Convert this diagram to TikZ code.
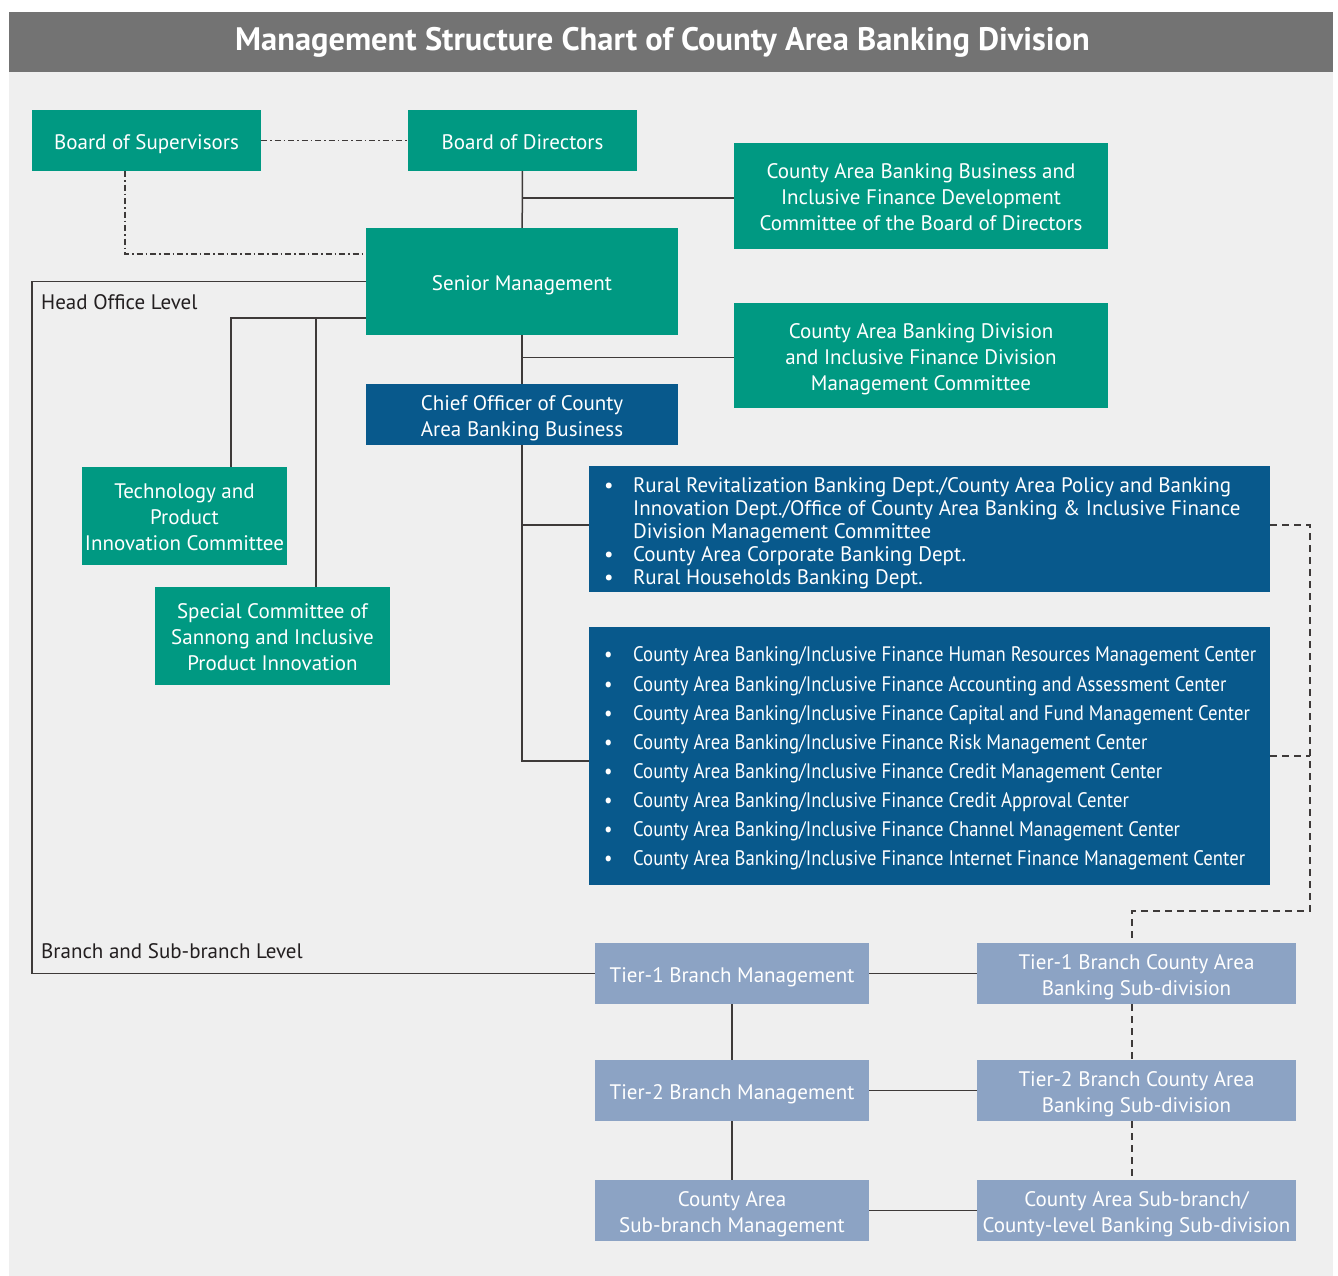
\documentclass[tikz,border=0pt]{standalone}
\usepackage{fontspec}
\setmainfont{PT Sans}
\newfontfamily\condfont{PT Sans}[FakeStretch=0.89]
\definecolor{teal1}{HTML}{009982}
\definecolor{navy1}{HTML}{08598C}
\definecolor{steel1}{HTML}{8CA3C4}
\definecolor{bg1}{HTML}{EFEFEF}
\definecolor{title1}{HTML}{737373}
\definecolor{line1}{HTML}{3E3A39}
\definecolor{txt1}{HTML}{231F20}
\newcommand{\bx}[7]{\node[#2,minimum width={#5pt-#3pt},minimum height={#6pt-#4pt}] (#1) at ({(#3+#5)/2},{(#4+#6)/2}) {\raisebox{-3.5pt}[\height][\depth]{\begin{tabular}{@{}c@{}}#7\end{tabular}}};}
\begin{document}
\begin{tikzpicture}[x=1pt,y=-1pt,
  box/.style={draw=none,inner sep=0pt,align=center,text=white,font=\fontsize{21}{26}\selectfont},
  tealbox/.style={box,fill=teal1},
  navybox/.style={box,fill=navy1},
  steelbox/.style={box,fill=steel1},
  conn/.style={draw=line1,line width=1.5pt},
  dashdot/.style={draw=line1,line width=1.3pt,dash pattern=on 6pt off 3pt on 1.5pt off 3pt},
  dashln/.style={draw=line1,line width=1.3pt,dash pattern=on 7pt off 5pt},
  lvl/.style={anchor=west,inner sep=0pt,text=txt1,font=\fontsize{21}{26}\selectfont},
  listtxt/.style={anchor=west,inner sep=0pt,text=white}]
\useasboundingbox (0,0) rectangle (1338,1276);
\fill[white] (0,0) rectangle (1338,1276);
\fill[bg1] (9,72) rectangle (1333,1276);
\fill[title1] (9,12) rectangle (1333,72);
\node[inner sep=0pt,text=white,font=\bfseries\fontsize{32.5}{36}\selectfont] (ttl) at (662.5,42) {Management Structure Chart of County Area Banking Division};

\bx{sup}{tealbox}{32}{110}{261}{171}{Board of Supervisors}
\bx{dir}{tealbox}{408}{110}{637}{171}{Board of Directors}
\bx{cab}{tealbox}{734}{143}{1108}{249}{County Area Banking Business and\\Inclusive Finance Development\\Committee of the Board of Directors}
\bx{sen}{tealbox}{366}{228}{678}{335}{Senior Management}
\bx{cad}{tealbox}{734}{303}{1108}{408}{County Area Banking Division\\and Inclusive Finance Division\\Management Committee}
\bx{cho}{navybox}{366}{384}{678}{445}{Chief Officer of County\\Area Banking Business}
\bx{tec}{tealbox}{82}{467}{287}{565}{Technology and\\Product\\Innovation Committee}
\bx{spc}{tealbox}{155}{587}{390}{685}{Special Committee of\\Sannong and Inclusive\\Product Innovation}
\bx{rur}{navybox}{589}{466}{1270}{592}{}
\bx{cen}{navybox}{589}{627}{1270}{885}{}
\bx{t1m}{steelbox}{595}{943}{869}{1004}{Tier-1 Branch Management}
\bx{t1c}{steelbox}{977}{943}{1296}{1004}{Tier-1 Branch County Area\\Banking Sub-division}
\bx{t2m}{steelbox}{595}{1060}{869}{1121}{Tier-2 Branch Management}
\bx{t2c}{steelbox}{977}{1060}{1296}{1121}{Tier-2 Branch County Area\\Banking Sub-division}
\bx{sbm}{steelbox}{595}{1180}{869}{1241}{County Area\\Sub-branch Management}
\bx{sbc}{steelbox}{977}{1180}{1296}{1241}{County Area Sub-branch/\\County-level Banking Sub-division}

\node[listtxt,font=\fontsize{21}{23}\selectfont] (rurtxt) at (604,534) {%
\begin{tabular}{@{}p{29pt}@{}l@{}}
\textbullet & Rural Revitalization Banking Dept./County Area Policy and Banking\\
 & Innovation Dept./Office of County Area Banking \& Inclusive Finance\\
 & Division Management Committee\\
\textbullet & County Area Corporate Banking Dept.\\
\textbullet & Rural Households Banking Dept.
\end{tabular}};
\node[listtxt,font=\condfont\fontsize{21}{29.1}\selectfont] (centxt) at (604,758) {%
\begin{tabular}{@{}p{29pt}@{}l@{}}
\textbullet & County Area Banking/Inclusive Finance Human Resources Management Center\\
\textbullet & County Area Banking/Inclusive Finance Accounting and Assessment Center\\
\textbullet & County Area Banking/Inclusive Finance Capital and Fund Management Center\\
\textbullet & County Area Banking/Inclusive Finance Risk Management Center\\
\textbullet & County Area Banking/Inclusive Finance Credit Management Center\\
\textbullet & County Area Banking/Inclusive Finance Credit Approval Center\\
\textbullet & County Area Banking/Inclusive Finance Channel Management Center\\
\textbullet & County Area Banking/Inclusive Finance Internet Finance Management Center
\end{tabular}};

\node[lvl] (hol) at (41,302) {Head Office Level};
\node[lvl] (bsl) at (41,951) {Branch and Sub-branch Level};

% coordinates for bends and junctions
\coordinate (k1) at (125,254);
\coordinate (fr) at (32,600);
\coordinate (dr) at (1310,911);
\coordinate (cenj) at ([yshift=-5pt]cen.west);
\coordinate (rurj) at ([yshift=4pt]rur.west);

% dash-dot supervision lines
\draw[dashdot] (sup) -- (dir);
\draw[dashdot] (sup.south -| k1) -- (k1) -- (k1 -| sen.west);

% solid hierarchy
\draw[conn] (dir) -- (sen);
\draw[conn] ([yshift=-2pt]dir.south |- cab.west) -- ([yshift=-2pt]cab.west);
\draw[conn] (sen) -- (cho);
\draw[conn] ([yshift=-2pt]sen.south |- cad.west) -- ([yshift=-2pt]cad.west);
\draw[conn] (cho.south) -- (cho.south |- cenj) -- (cenj);
\draw[conn] (cho.south |- rurj) -- (rurj);
\draw[conn] (sen.west) -| (fr) |- (t1m.west);
\draw[conn] ([yshift=-36.5pt]sen.west) -| ([xshift=46.5pt]tec.north);
\draw[conn] ([yshift=-36.5pt]sen.west) -| ([xshift=43.5pt]spc.north);
\draw[conn] (t1m) -- (t2m);
\draw[conn] (t2m) -- (sbm);
\draw[conn] (t1m) -- (t1c);
\draw[conn] (t2m) -- (t2c);
\draw[conn] (sbm) -- (sbc);

% dashed lines
\draw[dashln] ([yshift=4pt]rur.east) -| (dr) -| ([xshift=-4.5pt]t1c.north);
\draw[dashln] (cen.east) -- (cen.east -| dr);
\draw[dashln] ([xshift=-4.5pt]t1c.south) -- ([xshift=-4.5pt]t2c.north);
\draw[dashln] ([xshift=-4.5pt]t2c.south) -- ([xshift=-4.5pt]sbc.north);
\end{tikzpicture}
\end{document}
